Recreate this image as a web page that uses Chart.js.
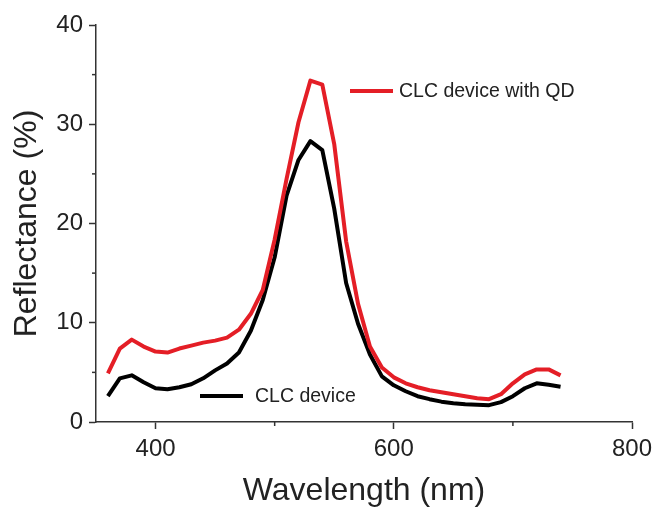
<!DOCTYPE html>
<html>
<head>
<meta charset="utf-8">
<script src="https://cdn.jsdelivr.net/npm/chart.js@4.4.0/dist/chart.umd.min.js"></script>
<style>
  html, body { margin: 0; padding: 0; background: #fff; }
  #wrap { width: 654px; height: 507px; }
</style>
</head>
<body>
<div id="wrap"><canvas id="myChart" width="654" height="507"></canvas></div>
<script>
// wavelength (nm)
var wavelength = [360, 370, 380, 390, 400, 410, 420, 430, 440, 450,
                  460, 470, 480, 490, 500, 510, 520, 530, 540, 550,
                  560, 570, 580, 590, 600, 610, 620, 630, 640, 650,
                  660, 670, 680, 690, 700, 710, 720, 730, 740];

// reflectance (%)
var clcQD = [4.9, 7.4, 8.3, 7.6, 7.1, 7.0, 7.4, 7.7, 8.0, 8.2,
             8.5, 9.3, 10.9, 13.3, 18.4, 24.5, 30.2, 34.4, 34.0, 28.0,
             18.2, 11.9, 7.6, 5.5, 4.5, 3.9, 3.5, 3.2, 3.0, 2.8,
             2.6, 2.4, 2.3, 2.8, 3.9, 4.8, 5.3, 5.3, 4.7];

var clc = [2.6, 4.4, 4.7, 4.0, 3.4, 3.3, 3.5, 3.8, 4.4, 5.2,
           5.9, 7.0, 9.2, 12.3, 16.6, 22.8, 26.4, 28.3, 27.4, 21.5,
           14.0, 9.9, 6.8, 4.6, 3.7, 3.1, 2.6, 2.3, 2.05, 1.9,
           1.8, 1.75, 1.7, 2.0, 2.6, 3.4, 3.9, 3.75, 3.55];

var xMajor = [400, 600, 800];
var xMinor = [500, 700];
var yMinor = [5, 15, 25, 35];

var axisColor = '#333';
var textColor = '#222';
var fam = '"Liberation Sans", Arial, sans-serif';

function toPoints(xs, ys) {
  var pts = [];
  for (var i = 0; i < xs.length; i++) pts.push({ x: xs[i], y: ys[i] });
  return pts;
}

// small outward minor ticks + the in-plot legend
var extras = {
  id: 'extras',
  afterDraw: function(chart) {
    var ctx = chart.ctx;
    var xs = chart.scales.x, ys = chart.scales.y;
    var area = chart.chartArea;
    ctx.save();
    ctx.strokeStyle = axisColor;
    ctx.lineWidth = 1.5;
    xMinor.forEach(function(v) {
      var px = xs.getPixelForValue(v);
      ctx.beginPath(); ctx.moveTo(px, area.bottom); ctx.lineTo(px, area.bottom + 4); ctx.stroke();
    });
    yMinor.forEach(function(v) {
      var py = ys.getPixelForValue(v);
      ctx.beginPath(); ctx.moveTo(area.left, py); ctx.lineTo(area.left - 4, py); ctx.stroke();
    });

    ctx.font = '19.5px ' + fam;
    ctx.textBaseline = 'middle';
    ctx.fillStyle = textColor;
    ctx.lineWidth = 4;

    ctx.strokeStyle = '#e41e26';
    ctx.beginPath(); ctx.moveTo(350, 91); ctx.lineTo(393, 91); ctx.stroke();
    ctx.fillText('CLC device with QD', 399, 92);

    ctx.strokeStyle = '#000';
    ctx.beginPath(); ctx.moveTo(200, 396); ctx.lineTo(243, 396); ctx.stroke();
    ctx.fillText('CLC device', 255, 397);
    ctx.restore();
  }
};

var ctx = document.getElementById('myChart').getContext('2d');
var myChart = new Chart(ctx, {
  type: 'line',
  data: {
    datasets: [{
      label: 'CLC device with QD',
      data: toPoints(wavelength, clcQD),
      borderColor: '#e41e26',
      borderWidth: 4,
      pointRadius: 0,
      tension: 0,
      fill: false
    }, {
      label: 'CLC device',
      data: toPoints(wavelength, clc),
      borderColor: '#000',
      borderWidth: 4,
      pointRadius: 0,
      tension: 0,
      fill: false
    }]
  },
  options: {
    responsive: false,
    animation: false,
    layout: { padding: { top: 25, right: 22, left: 0, bottom: 0 } },
    plugins: { legend: { display: false }, tooltip: { enabled: false } },
    elements: { line: { borderJoinStyle: 'round' } },
    scales: {
      x: {
        type: 'linear',
        min: 350, max: 800,
        afterFit: function(s) { s.height = 85; s.paddingLeft = 0; s.paddingRight = 0; },
        afterBuildTicks: function(s) { s.ticks = xMajor.map(function(v) { return { value: v }; }); },
        grid: { drawOnChartArea: false, drawTicks: true, tickLength: 7, tickColor: axisColor, tickWidth: 1.5 },
        border: { color: axisColor, width: 1.5 },
        ticks: { color: textColor, font: { family: fam, size: 24 }, padding: 6, maxRotation: 0 },
        title: { display: true, text: 'Wavelength (nm)', color: textColor, font: { family: fam, size: 32, lineHeight: 1.0 }, padding: { top: 0, bottom: 0 } }
      },
      y: {
        min: 0, max: 40,
        afterFit: function(s) { s.width = 96; s.paddingTop = 0; s.paddingBottom = 0; },
        grid: { drawOnChartArea: false, drawTicks: true, tickLength: 7, tickColor: axisColor, tickWidth: 1.5 },
        border: { color: axisColor, width: 1.5 },
        ticks: { stepSize: 10, color: textColor, font: { family: fam, size: 24 }, padding: 6 },
        title: { display: true, text: 'Reflectance (%)', color: textColor, font: { family: fam, size: 32, lineHeight: 1.05 }, padding: { top: 10, bottom: 0 } }
      }
    }
  },
  plugins: [extras]
});
</script>
</body>
</html>
